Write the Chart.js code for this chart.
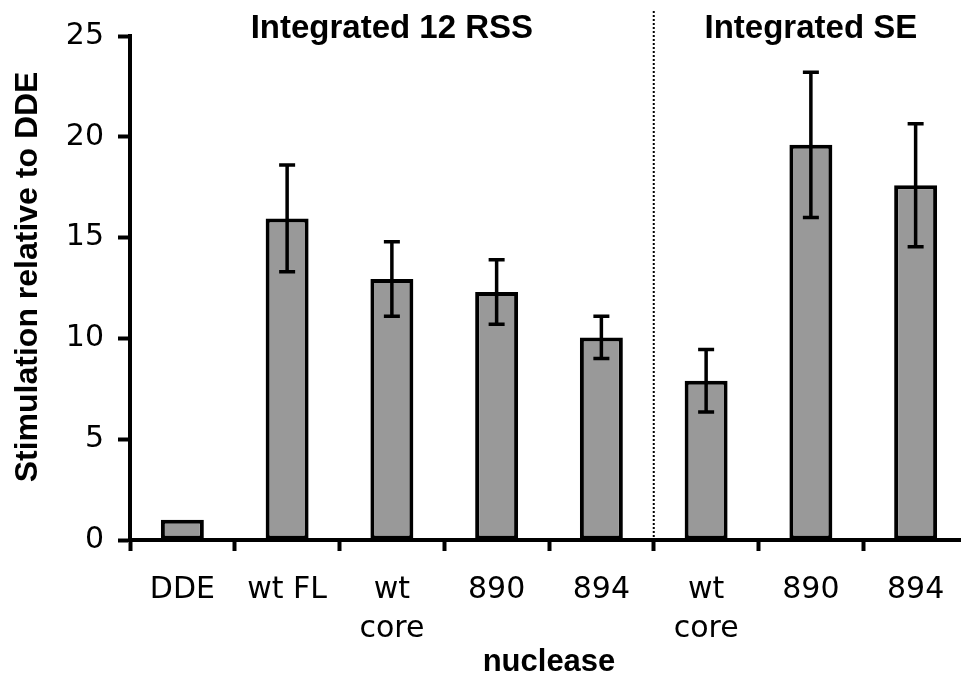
<!DOCTYPE html>
<html>
<head>
<meta charset="utf-8">
<script src="https://cdn.jsdelivr.net/npm/chart.js@4/dist/chart.umd.min.js"></script>
<style>
  html, body { margin: 0; padding: 0; background: #fff; overflow: hidden; }
  #chart { display: block; }
</style>
</head>
<body>
<canvas id="chart" width="968" height="675"></canvas>
<script>
// data
const categories = [
  "DDE",
  "wt FL",
  ["wt", "core"],
  "890",
  "894",
  ["wt", "core"],
  "890",
  "894",
];
const stimulation = [1.0, 15.95, 12.95, 12.3, 10.05, 7.9, 19.6, 17.6];
const errors = [0, 2.65, 1.85, 1.6, 1.05, 1.55, 3.6, 3.05];
const groups = [
  { label: "Integrated 12 RSS", first: 0, last: 4 },
  { label: "Integrated SE", first: 5, last: 7 },
];
const yTicks = [0, 5, 10, 15, 20, 25];
const yTitle = "Stimulation relative to DDE";

const tickFont = { family: "DejaVu Sans", size: 30, lineHeight: 1.3 };
const boldFont = { family: "Liberation Sans", size: 31, weight: "bold", lineHeight: 1 };

// error bars, separator, headings and the y title
const extrasPlugin = {
  id: "extras",
  afterDatasetsDraw(chart) {
    const ctx = chart.ctx;
    const y = chart.scales.y;
    const bars = chart.getDatasetMeta(0).data;
    const area = chart.chartArea;

    ctx.save();
    ctx.strokeStyle = "#000";
    ctx.lineWidth = 3.5;
    bars.forEach((bar, i) => {
      if (!errors[i]) return;
      const top = y.getPixelForValue(stimulation[i] + errors[i]);
      const bot = y.getPixelForValue(stimulation[i] - errors[i]);
      ctx.beginPath();
      ctx.moveTo(bar.x, top);
      ctx.lineTo(bar.x, bot);
      ctx.moveTo(bar.x - 8, top);
      ctx.lineTo(bar.x + 8, top);
      ctx.moveTo(bar.x - 8, bot);
      ctx.lineTo(bar.x + 8, bot);
      ctx.stroke();
    });

    // dotted divider between the two groups
    const sepX = (bars[4].x + bars[5].x) / 2;
    ctx.lineWidth = 2;
    ctx.setLineDash([2, 2]);
    ctx.beginPath();
    ctx.moveTo(sepX, 11);
    ctx.lineTo(sepX, area.bottom);
    ctx.stroke();
    ctx.setLineDash([]);

    // headings centred over each group
    ctx.fillStyle = "#000";
    ctx.font = "bold 33px 'Liberation Sans'";
    ctx.textAlign = "center";
    ctx.textBaseline = "alphabetic";
    const half = (bars[1].x - bars[0].x) / 2;
    groups.forEach((g) => {
      const cx = (bars[g.first].x - half + bars[g.last].x + half) / 2;
      ctx.fillText(g.label, cx, 38);
    });

    // rotated y title
    ctx.font = "bold 32px 'Liberation Sans'";
    ctx.translate(37, y.getPixelForValue(13.05));
    ctx.rotate(-Math.PI / 2);
    ctx.fillText(yTitle, 0, 0);
    ctx.restore();
  },
};

new Chart(document.getElementById("chart"), {
  type: "bar",
  data: {
    labels: categories,
    datasets: [
      {
        data: stimulation,
        backgroundColor: "#999999",
        borderColor: "#000",
        borderWidth: 4,
        borderSkipped: false,
        categoryPercentage: 1,
        barPercentage: 0.41,
      },
    ],
  },
  options: {
    responsive: false,
    animation: false,
    layout: { padding: { top: 36, right: 0, left: 0, bottom: 0 } },
    plugins: {
      legend: { display: false },
      tooltip: { enabled: false },
    },
    scales: {
      x: {
        afterFit(scale) {
          scale.height = 135;
        },
        border: { display: true, color: "#000", width: 4 },
        grid: {
          drawOnChartArea: false,
          drawTicks: true,
          tickLength: 11,
          tickWidth: 4,
          tickColor: "#000",
          offset: true,
        },
        ticks: {
          color: "#000",
          font: tickFont,
          padding: 20,
          maxRotation: 0,
          autoSkip: false,
        },
        title: {
          display: true,
          text: "nuclease",
          color: "#000",
          font: boldFont,
          padding: { top: 0, bottom: -3 },
        },
      },
      y: {
        min: 0,
        max: 25,
        afterFit(scale) {
          scale.width = 130;
        },
        afterBuildTicks(scale) {
          scale.ticks = yTicks.map((v) => ({ value: v }));
        },
        border: { display: true, color: "#000", width: 4 },
        grid: {
          drawOnChartArea: false,
          drawTicks: true,
          tickLength: 12,
          tickWidth: 4,
          tickColor: "#000",
        },
        ticks: {
          color: "#000",
          font: tickFont,
          padding: 14,
        },
      },
    },
  },
  plugins: [extrasPlugin],
});
</script>
</body>
</html>
